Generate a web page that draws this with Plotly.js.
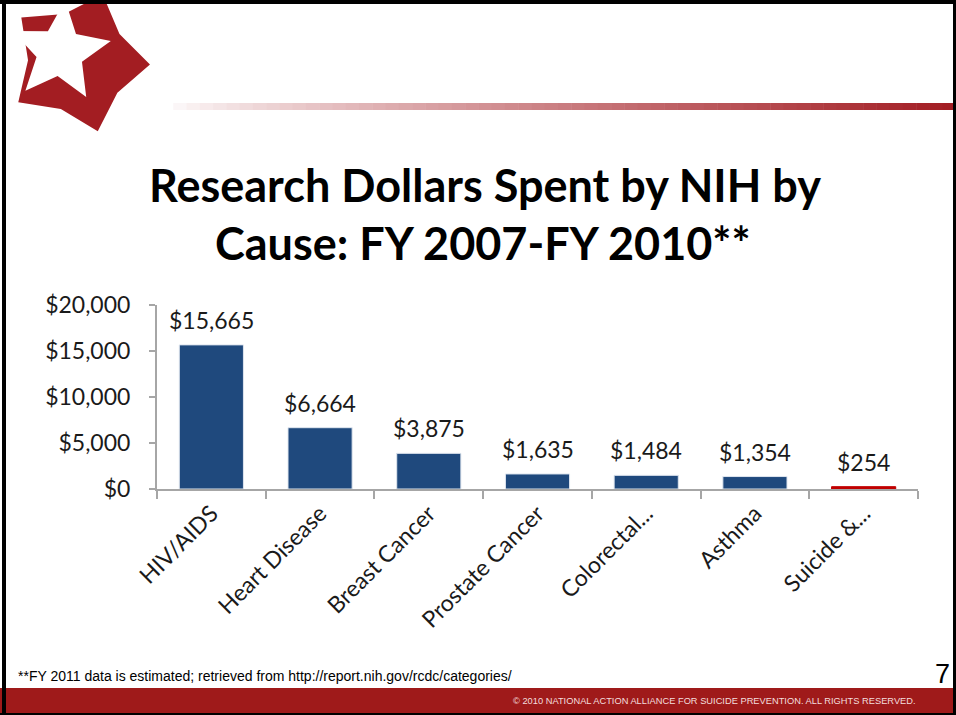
<!DOCTYPE html>
<html>
<head>
<meta charset="utf-8">
<script src="https://cdn.plot.ly/plotly-3.0.1.min.js"></script>
<style>
html,body{margin:0;padding:0;background:#fff;}
#chart{width:956px;height:715px;}
</style>
</head>
<body>
<div id="chart"></div>
<script>
var categories = ["HIV/AIDS", "Heart Disease", "Breast Cancer", "Prostate Cancer", "Colorectal...", "Asthma", "Suicide &..."];
var values = [15665, 6664, 3875, 1635, 1484, 1354, 254];
var barColors = ["#1f497d", "#1f497d", "#1f497d", "#1f497d", "#1f497d", "#1f497d", "#c00000"];
var barEdgeColors = ["#dfe6ef", "#dfe6ef", "#dfe6ef", "#dfe6ef", "#dfe6ef", "#dfe6ef", "#c00000"];
var yTickVals = [0, 5000, 10000, 15000, 20000];
var yTickText = ["$0", "$5,000", "$10,000", "$15,000", "$20,000"];
var titleLines = ["Research Dollars Spent by NIH by", "Cause: FY 2007-FY 2010**"];
var footnote = "**FY 2011 data is estimated; retrieved from http://report.nih.gov/rcdc/categories/";
var footer = "\u00a9 2010 NATIONAL ACTION ALLIANCE FOR SUICIDE PREVENTION. ALL RIGHTS RESERVED.";
var pageNumber = "7";

var W = 956, H = 715;
var M = {l: 157, r: 38, t: 305, b: 226};
var PW = W - M.l - M.r, PH = H - M.t - M.b;
function px(x){ return (x - M.l) / PW; }
function py(y){ return (H - M.b - y) / PH; }

function fmt(v){ return "$" + v.toLocaleString("en-US"); }

var shapes = [];
// gradient rule (white to dark red)
var gx0 = 160, gx1 = 956, nSeg = 60;
function lerp(a,b,t){ return Math.round(a + (b-a)*t); }
for (var i = 0; i < nSeg; i++) {
  var t = i / (nSeg - 1);
  var tt = Math.pow(t, 0.8);
  var c = "rgb(" + lerp(255,163,tt) + "," + lerp(255,30,tt) + "," + lerp(255,36,tt) + ")";
  var x0 = gx0 + (gx1 - gx0) * i / nSeg, x1 = gx0 + (gx1 - gx0) * (i + 1) / nSeg + 0.5;
  shapes.push({type:"rect", xref:"paper", yref:"paper", x0:px(x0), x1:px(x1), y0:py(110), y1:py(103), fillcolor:c, line:{width:0}, layer:"below"});
}
// logo: red star with white inner star
function starPath(cx, cy, rOut, rIn, rot){
  var p = "";
  for (var k = 0; k < 10; k++) {
    var r = (k % 2 === 0) ? rOut : rIn;
    var a = rot + k * Math.PI / 5;
    var X = cx + r * Math.sin(a), Y = cy - r * Math.cos(a);
    p += (k === 0 ? "M" : "L") + px(X).toFixed(5) + "," + py(Y).toFixed(5);
  }
  return p + "Z";
}
shapes.push({type:"path", xref:"paper", yref:"paper", path: starPath(78, 62, 72, 50, 0.35), fillcolor:"#a31d22", line:{color:"#a31d22", width:0}, layer:"below"});
shapes.push({type:"path", xref:"paper", yref:"paper", path: starPath(60, 52, 52, 24, 0.1), fillcolor:"#ffffff", line:{color:"#ffffff", width:0}, layer:"below"});
// white cover for logo overflow above/left
shapes.push({type:"rect", xref:"paper", yref:"paper", x0:px(0), x1:px(200), y0:py(4), y1:py(-30), fillcolor:"#fff", line:{width:0}, layer:"below"});
shapes.push({type:"rect", xref:"paper", yref:"paper", x0:px(-40), x1:px(6), y0:py(200), y1:py(-30), fillcolor:"#fff", line:{width:0}, layer:"below"});
// footer bar
shapes.push({type:"rect", xref:"paper", yref:"paper", x0:px(0), x1:px(956), y0:py(713), y1:py(688), fillcolor:"#9f1a1a", line:{width:0}});
// black frame
shapes.push({type:"rect", xref:"paper", yref:"paper", x0:px(0), x1:px(956), y0:py(4), y1:py(0), fillcolor:"#000", line:{width:0}});
shapes.push({type:"rect", xref:"paper", yref:"paper", x0:px(2), x1:px(6), y0:py(715), y1:py(0), fillcolor:"#000", line:{width:0}});
shapes.push({type:"rect", xref:"paper", yref:"paper", x0:px(953), x1:px(956), y0:py(715), y1:py(0), fillcolor:"#000", line:{width:0}});
shapes.push({type:"rect", xref:"paper", yref:"paper", x0:px(0), x1:px(956), y0:py(715), y1:py(713), fillcolor:"#000", line:{width:0}});

var labelFont = {family:"Lato, 'Open Sans', sans-serif", size:23, color:"#1a1a1a"};
var annotations = [];
for (var j = 0; j < categories.length; j++) {
  annotations.push({x: categories[j], y: values[j], xref:"x", yref:"y", text: fmt(values[j]),
    showarrow:false, yanchor:"bottom", yshift:9, font: labelFont});
}
annotations.push({xref:"paper", yref:"paper", x:px(485), y:py(185), text: titleLines[0], showarrow:false, xanchor:"center", yanchor:"middle",
  font:{family:"Lato, sans-serif", size:45, color:"#000", weight:"bold"}});
annotations.push({xref:"paper", yref:"paper", x:px(483), y:py(243), text: titleLines[1], showarrow:false, xanchor:"center", yanchor:"middle",
  font:{family:"Lato, sans-serif", size:45, color:"#000", weight:"bold"}});
annotations.push({xref:"paper", yref:"paper", x:px(16), y:py(676), text: footnote, showarrow:false, xanchor:"left", yanchor:"middle",
  font:{family:"'Liberation Sans', Arial, sans-serif", size:14, color:"#000"}});
annotations.push({xref:"paper", yref:"paper", x:px(952), y:py(674), text: pageNumber, showarrow:false, xanchor:"right", yanchor:"middle",
  font:{family:"'Liberation Sans', Arial, sans-serif", size:27, color:"#000"}});
annotations.push({xref:"paper", yref:"paper", x:px(918), y:py(701), text: footer, showarrow:false, xanchor:"right", yanchor:"middle",
  font:{family:"'Liberation Sans Narrow', 'Arial Narrow', sans-serif", size:9.3, color:"#f3dede"}});

var trace = {
  type:"bar", x: categories, y: values,
  marker:{color: barColors, line:{color: barEdgeColors, width:1}},
  width: 0.59, hoverinfo:"none", cliponaxis:false
};

var layout = {
  width: W, height: H,
  margin: M,
  paper_bgcolor:"rgba(0,0,0,0)", plot_bgcolor:"rgba(0,0,0,0)",
  showlegend:false,
  font:{family:"Lato, 'Open Sans', sans-serif", color:"#1a1a1a"},
  xaxis:{type:"category", tickson:"boundaries", ticks:"outside", ticklen:8, tickcolor:"#a6a6a6", tickwidth:2,
    showline:true, linecolor:"#a6a6a6", linewidth:2, showgrid:false, tickangle:-45,
    tickfont:{family:"Lato, 'Open Sans', sans-serif", size:23, color:"#1a1a1a"}, fixedrange:true},
  yaxis:{range:[0,20000], tickvals:yTickVals, ticktext:yTickText, ticks:"outside", ticklen:6, tickcolor:"#a6a6a6", tickwidth:2,
    showline:true, linecolor:"#a6a6a6", linewidth:2, showgrid:false, zeroline:false, ticklabelstandoff:14,
    tickfont: labelFont, fixedrange:true},
  shapes: shapes,
  annotations: annotations
};

Plotly.newPlot("chart", [trace], layout, {displayModeBar:false, staticPlot:true});
</script>
</body>
</html>
